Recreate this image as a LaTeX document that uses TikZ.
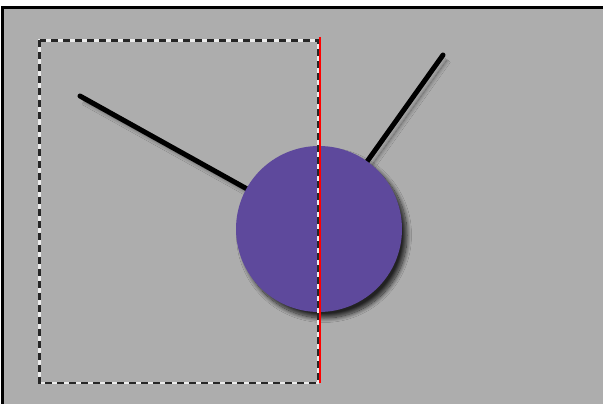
\documentclass[tikz,border=0pt]{standalone}
\usetikzlibrary{shadows.blur}
\definecolor{bggray}{RGB}{173,173,173}
\definecolor{ballpurple}{RGB}{94,73,156}
\begin{document}
\begin{tikzpicture}[x=1pt,y=-1pt,
  stick/.style={line width=5pt,line cap=round,black,
    blur shadow={shadow xshift=4pt,shadow yshift=-5pt,shadow blur radius=4pt,shadow blur steps=12,shadow opacity=45}},
  ball/.style={circle,fill=ballpurple,minimum size=166pt,inner sep=0pt,
    blur shadow={shadow xshift=5pt,shadow yshift=-6pt,shadow blur radius=4.5pt,shadow blur steps=14,shadow opacity=80}},
  selwhite/.style={white!92!black,line width=2.4pt},
  selblack/.style={black!85,line width=2.4pt,dash pattern=on 7pt off 5pt},
  guide/.style={red,line width=2pt}]
\useasboundingbox (0,0) rectangle (603,404);
\fill[white] (0,0) rectangle (603,404);
\fill[bggray] (2.5,7.5) rectangle (603,404);
\draw[black,line width=2.5pt] (2.5,404) -- (2.5,7.5) -- (603,7.5);
% stick ends
\coordinate (c0) at (319,229);
\coordinate (s1) at (80,96);
\coordinate (s2) at (443,55);
\draw[stick] (s1) -- (c0);
\draw[stick] (s2) -- (c0);
\node[ball] (ball) at (c0) {};
% selection rectangle
\coordinate (r1) at (39.5,40.5);
\coordinate (r2) at (318,383);
\draw[selwhite] (r1) rectangle (r2);
\draw[selblack] (r1) rectangle (r2);
% guide line
\coordinate (g1) at (320,37);
\coordinate (g2) at (320,383);
\draw[guide] (g1) -- (g2);
\end{tikzpicture}
\end{document}
